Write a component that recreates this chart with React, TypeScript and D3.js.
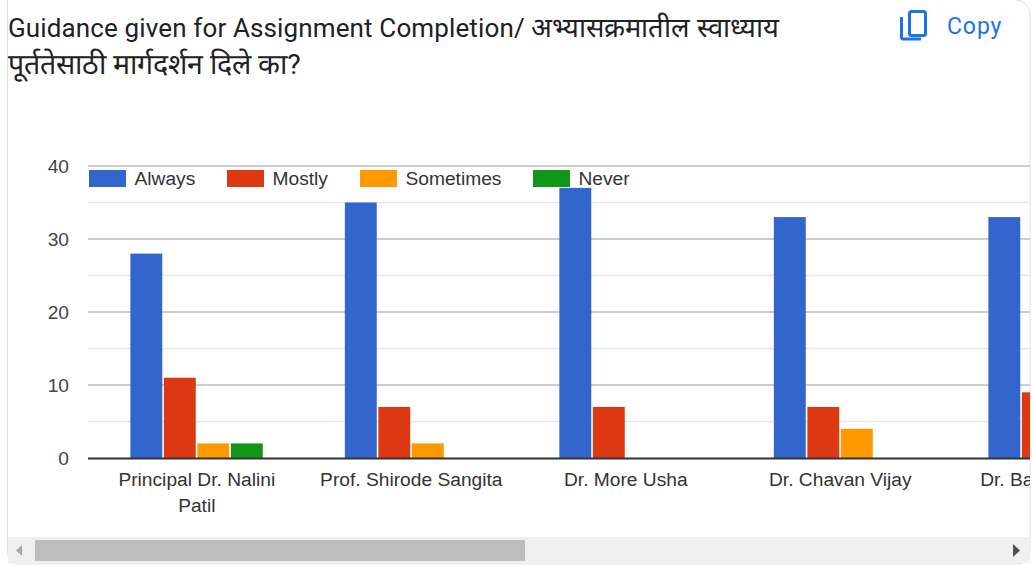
import React from "react";
import * as d3 from "d3";

const categories = ["Principal Dr. Nalini|Patil", "Prof. Shirode Sangita", "Dr. More Usha", "Dr. Chavan Vijay", "Dr. Bagul Sangita"];
const seriesNames = ["Always", "Mostly", "Sometimes", "Never"];
const colors = ["#3366cc", "#dc3912", "#ff9900", "#109618"];
const always = [28, 35, 37, 33, 33];
const mostly = [11, 7, 7, 7, 9];
const sometimes = [2, 2, 0, 4, 0];
const never = [2, 0, 0, 0, 0];
const yTicks = [0, 10, 20, 30, 40];
const yMinor = [5, 15, 25, 35];
const legendX = [89, 227, 360, 533];

const series = [always, mostly, sometimes, never];
const sans = "'Liberation Sans', Arial, sans-serif";

export default function App() {
  const y = d3.scaleLinear().domain([0, 40]).range([458, 166]);
  const x0 = d3.scaleBand<string>().domain(categories).range([89.25, 89.25 + 214.5 * 5]);
  const x1 = d3.scaleBand<string>().domain(seriesNames).range([40.5, 174.5]);
  return (
    <svg width={1032} height={566} style={{ position: "absolute", left: 0, top: 0, background: "#fff" }}>
      <defs>
        <clipPath id="plot"><rect x={8} y={140} width={1022} height={396} /></clipPath>
      </defs>
      <path d="M7.5 0V552a12 12 0 0 0 12 12H1018a12 12 0 0 0 12-12V14a14 14 0 0 0-14-14" fill="none" stroke="#e0e0e0" />
      <text x={8} y={36.5} fontFamily="Roboto, sans-serif" fontSize={26} letterSpacing={0.13} fill="#202124">
        Guidance given for Assignment Completion/ <tspan fontSize={27.3} letterSpacing={0}>अभ्यासक्रमातील स्वाध्याय</tspan>
      </text>
      <text x={8} y={74} fontFamily="Roboto, sans-serif" fontSize={28.5} fill="#202124">
        पूर्ततेसाठी मार्गदर्शन दिले का?
      </text>
      <g fill="none" stroke="#1a73e8" strokeWidth={3}>
        <rect x={909.5} y={11.5} width={16} height={24} rx={2} />
        <path d="M901.5 17V37a2 2 0 0 0 2 2H921" />
      </g>
      <text x={947} y={34} fontFamily="Roboto, sans-serif" fontSize={23} letterSpacing={0.9} fill="#1a73e8">Copy</text>
      <g clipPath="url(#plot)">
        {yMinor.map((t) => (
          <line key={t} x1={88} x2={1030} y1={y(t)} y2={y(t)} stroke="#e6e6e6" strokeWidth={1.5} />
        ))}
        {yTicks.filter((t) => t > 0).map((t) => (
          <line key={t} x1={88} x2={1030} y1={y(t)} y2={y(t)} stroke="#cccccc" strokeWidth={2} />
        ))}
        {categories.map((c, i) => (
          <g key={c}>
            {seriesNames.map((s, j) =>
              series[j][i] > 0 ? (
                <rect
                  key={s}
                  x={(x0(c) as number) + (x1(s) as number) + 0.6}
                  y={y(series[j][i])}
                  width={x1.bandwidth() - 1.6}
                  height={458 - y(series[j][i])}
                  fill={colors[j]}
                />
              ) : null
            )}
            {c.split("|").map((line, k) => (
              <text
                key={line}
                x={(x0(c) as number) + x0.bandwidth() / 2 + 0.3}
                y={486 + k * 26}
                textAnchor="middle"
                fontFamily={sans}
                fontSize={19.2}
                fill="#333"
              >
                {line}
              </text>
            ))}
          </g>
        ))}
        <line x1={88} x2={1030} y1={458.5} y2={458.5} stroke="#333" strokeWidth={2} />
      </g>
      {yTicks.map((t) => (
        <text key={t} x={69} y={y(t) + 6.5} textAnchor="end" fontFamily={sans} fontSize={19.2} fill="#444">{t}</text>
      ))}
      {seriesNames.map((s, j) => (
        <g key={s}>
          <rect x={legendX[j]} y={170} width={37} height={17} fill={colors[j]} />
          <text x={legendX[j] + 45.5} y={185} fontFamily={sans} fontSize={19.2} fill="#333">{s}</text>
        </g>
      ))}
      <rect x={8} y={537} width={1022} height={26} fill="#f0f0f0" />
      <rect x={35} y={540} width={490} height={21} fill="#bdbdbd" />
      <path d={`M${22} 545V556L${16} 550.5Z`} fill="#a8a8a8" />
      <path d={`M${1013} 544V557L${1020} 550.5Z`} fill="#505050" />
    </svg>
  );
}
